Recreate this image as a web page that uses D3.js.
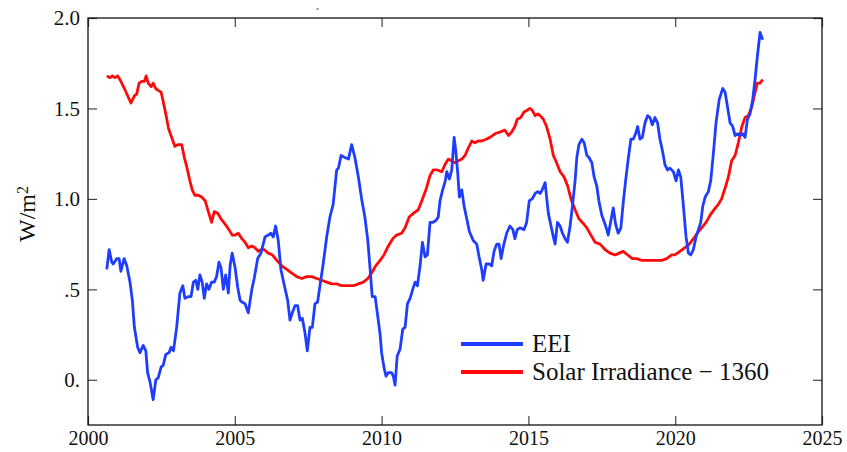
<!DOCTYPE html>
<html>
<head>
<meta charset="utf-8">
<script src="https://d3js.org/d3.v7.min.js"></script>
<style>
  body { margin: 0; background: #fff; }
  svg text { font-family: "Liberation Serif", "Times New Roman", serif; fill: #111; }
</style>
</head>
<body>
<div id="chart"></div>
<script>
// EEI (12-month running mean)
var eeiYears = [2000.64,2000.72,2000.81,2000.86,2000.98,2001.06,2001.12,2001.23,2001.32,2001.43,2001.51,2001.58,2001.69,2001.77,2001.88,2001.97,
  2002.03,2002.11,2002.22,2002.31,2002.39,2002.49,2002.56,2002.65,2002.76,2002.83,2002.91,2003.02,2003.13,2003.23,2003.30,2003.42,2003.51,2003.59,
  2003.67,2003.74,2003.81,2003.89,2003.96,2004.04,2004.12,2004.21,2004.30,2004.38,2004.46,2004.53,2004.61,2004.69,2004.78,2004.84,2004.91,2005.01,
  2005.10,2005.18,2005.24,2005.35,2005.46,2005.58,2005.66,2005.78,2005.89,2006.03,2006.14,2006.23,2006.31,2006.39,2006.48,2006.57,2006.69,2006.80,
  2006.88,2006.96,2007.05,2007.14,2007.22,2007.30,2007.39,2007.47,2007.56,2007.64,2007.73,2007.82,2007.91,2008.01,2008.13,2008.24,2008.35,2008.47,
  2008.53,2008.62,2008.73,2008.87,2008.98,2009.09,2009.21,2009.32,2009.43,2009.53,2009.60,2009.68,2009.78,2009.87,2009.95,2010.00,2010.08,2010.15,
  2010.23,2010.34,2010.40,2010.46,2010.53,2010.63,2010.72,2010.80,2010.88,2010.97,2011.06,2011.14,2011.22,2011.31,2011.39,2011.48,2011.56,2011.65,
  2011.74,2011.85,2011.93,2011.99,2012.08,2012.17,2012.22,2012.31,2012.39,2012.47,2012.53,2012.59,2012.65,2012.73,2012.81,2012.90,2012.99,2013.12,
  2013.24,2013.32,2013.41,2013.46,2013.56,2013.67,2013.75,2013.83,2013.92,2014.00,2014.07,2014.15,2014.26,2014.37,2014.47,2014.54,2014.62,2014.71,
  2014.85,2014.94,2015.03,2015.13,2015.23,2015.32,2015.40,2015.47,2015.57,2015.62,2015.68,2015.77,2015.85,2015.91,2015.99,2016.08,2016.16,2016.25,
  2016.33,2016.42,2016.50,2016.59,2016.65,2016.72,2016.82,2016.90,2016.99,2017.06,2017.16,2017.24,2017.33,2017.40,2017.50,2017.59,2017.67,2017.72,
  2017.81,2017.89,2017.97,2018.06,2018.15,2018.23,2018.31,2018.40,2018.49,2018.57,2018.65,2018.72,2018.80,2018.88,2018.97,2019.06,2019.14,2019.22,
  2019.31,2019.40,2019.48,2019.56,2019.65,2019.74,2019.82,2019.94,2020.03,2020.11,2020.19,2020.28,2020.37,2020.45,2020.53,2020.62,2020.71,2020.79,
  2020.87,2020.94,2021.02,2021.13,2021.21,2021.30,2021.39,2021.50,2021.62,2021.70,2021.78,2021.87,2021.96,2022.04,2022.13,2022.21,2022.30,2022.38,
  2022.46,2022.55,2022.64,2022.72,2022.80,2022.89,2022.98];
var eeiValues = [0.61,0.72,0.65,0.64,0.67,0.67,0.60,0.67,0.63,0.54,0.44,0.29,0.18,0.15,0.19,0.16,
  0.04,-0.01,-0.11,0.00,0.01,0.07,0.08,0.14,0.15,0.18,0.16,0.29,0.48,0.52,0.45,0.46,0.46,0.54,
  0.55,0.50,0.58,0.54,0.45,0.53,0.50,0.54,0.54,0.57,0.65,0.62,0.50,0.58,0.48,0.63,0.70,0.62,
  0.51,0.44,0.43,0.42,0.37,0.50,0.56,0.67,0.70,0.79,0.80,0.81,0.79,0.85,0.77,0.61,0.52,0.44,
  0.33,0.37,0.41,0.41,0.33,0.34,0.26,0.16,0.29,0.29,0.42,0.43,0.53,0.64,0.79,0.90,0.97,1.16,
  1.17,1.24,1.23,1.22,1.30,1.23,1.12,1.00,0.90,0.77,0.63,0.46,0.46,0.35,0.25,0.15,0.07,0.02,
  0.04,0.04,0.02,-0.03,0.13,0.17,0.28,0.29,0.42,0.45,0.50,0.54,0.52,0.63,0.76,0.68,0.69,0.87,
  0.87,0.88,0.90,0.99,1.05,1.10,1.15,1.11,1.16,1.34,1.26,1.15,1.01,1.05,0.96,0.89,0.82,0.77,
  0.75,0.68,0.61,0.55,0.64,0.64,0.63,0.71,0.75,0.75,0.67,0.74,0.81,0.85,0.83,0.78,0.83,0.84,
  0.83,0.87,0.99,1.00,1.03,1.04,1.03,1.05,1.09,1.01,0.92,0.85,0.79,0.75,0.87,0.85,0.81,0.78,
  0.76,0.85,0.96,1.10,1.23,1.30,1.33,1.31,1.24,1.23,1.20,1.12,1.07,0.99,0.91,0.87,0.83,0.80,
  0.88,0.95,0.86,0.81,0.84,0.98,1.10,1.22,1.33,1.33,1.36,1.40,1.33,1.34,1.42,1.46,1.45,1.41,
  1.45,1.42,1.33,1.27,1.19,1.16,1.17,1.15,1.10,1.16,1.12,0.96,0.79,0.70,0.69,0.72,0.79,0.83,
  0.87,0.96,1.01,1.04,1.10,1.25,1.42,1.55,1.61,1.59,1.51,1.42,1.40,1.35,1.36,1.35,1.36,1.34,
  1.44,1.47,1.55,1.66,1.79,1.92,1.88];

// Solar irradiance minus 1360 W/m2
var solarYears = [2000.64,2000.75,2000.83,2000.92,2001.01,2001.12,2001.24,2001.35,2001.46,2001.58,2001.66,2001.74,2001.83,2001.92,2001.98,
  2002.05,2002.15,2002.22,2002.31,2002.39,2002.49,2002.56,2002.65,2002.74,2002.85,2002.96,2003.06,2003.19,2003.28,2003.36,2003.47,2003.55,
  2003.64,2003.76,2003.87,2003.99,2004.10,2004.21,2004.30,2004.42,2004.53,2004.67,2004.80,2004.91,2005.01,2005.12,2005.24,2005.35,2005.46,
  2005.58,2005.69,2005.80,2005.89,2006.00,2006.14,2006.28,2006.43,2006.60,2006.77,2006.94,2007.11,2007.28,2007.45,2007.62,2007.79,2007.96,
  2008.13,2008.30,2008.47,2008.64,2008.85,2009.04,2009.21,2009.38,2009.53,2009.66,2009.80,2009.95,2010.08,2010.23,2010.38,2010.51,2010.68,
  2010.80,2010.94,2011.08,2011.25,2011.37,2011.51,2011.65,2011.76,2011.90,2012.05,2012.16,2012.27,2012.39,2012.50,2012.61,2012.73,2012.84,
  2012.95,2013.07,2013.18,2013.29,2013.41,2013.56,2013.69,2013.86,2014.03,2014.20,2014.32,2014.43,2014.54,2014.62,2014.74,2014.85,2014.96,
  2015.05,2015.13,2015.23,2015.32,2015.40,2015.51,2015.62,2015.74,2015.85,2015.96,2016.08,2016.22,2016.34,2016.45,2016.59,2016.72,2016.84,
  2016.99,2017.13,2017.27,2017.44,2017.61,2017.78,2017.95,2018.09,2018.23,2018.38,2018.54,2018.69,2018.86,2019.03,2019.20,2019.37,2019.54,
  2019.71,2019.88,2019.99,2020.16,2020.33,2020.48,2020.62,2020.75,2020.90,2021.05,2021.19,2021.32,2021.47,2021.58,2021.70,2021.81,2021.92,
  2022.04,2022.15,2022.27,2022.38,2022.49,2022.61,2022.72,2022.80,2022.89,2022.98];
var solarValues = [1.68,1.67,1.68,1.67,1.68,1.65,1.61,1.57,1.53,1.57,1.58,1.64,1.65,1.65,1.68,
  1.64,1.62,1.64,1.61,1.60,1.59,1.54,1.47,1.39,1.34,1.29,1.30,1.30,1.23,1.18,1.10,1.05,
  1.02,1.02,1.01,0.99,0.93,0.87,0.93,0.92,0.89,0.86,0.83,0.80,0.80,0.81,0.78,0.76,0.73,
  0.74,0.73,0.71,0.72,0.72,0.70,0.69,0.66,0.63,0.61,0.59,0.57,0.56,0.57,0.57,0.56,0.55,
  0.54,0.53,0.53,0.52,0.52,0.52,0.53,0.54,0.56,0.59,0.63,0.66,0.69,0.74,0.78,0.80,0.81,
  0.84,0.90,0.92,0.94,0.99,1.05,1.13,1.16,1.16,1.15,1.19,1.22,1.21,1.20,1.21,1.22,1.24,
  1.28,1.32,1.31,1.32,1.32,1.33,1.34,1.36,1.37,1.38,1.35,1.37,1.40,1.44,1.45,1.48,1.49,
  1.50,1.49,1.46,1.47,1.46,1.44,1.40,1.33,1.24,1.20,1.15,1.12,1.07,1.00,0.94,0.89,0.87,
  0.84,0.80,0.76,0.75,0.72,0.70,0.69,0.70,0.71,0.69,0.67,0.67,0.66,0.66,0.66,0.66,0.66,
  0.67,0.69,0.69,0.71,0.73,0.75,0.78,0.81,0.84,0.87,0.91,0.94,0.97,1.00,1.06,1.12,1.21,
  1.24,1.31,1.40,1.45,1.46,1.51,1.59,1.64,1.64,1.66];

var xTicks = [2000, 2005, 2010, 2015, 2020, 2025];
var yTicks = [0, 0.5, 1.0, 1.5, 2.0];
var yTickLabels = ["0.", ".5", "1.0", "1.5", "2.0"];
var seriesNames = ["EEI", "Solar Irradiance \u2212 1360"];
var seriesColors = ["#1f3dff", "#ff0a0a"];

var margin = {top: 18, right: 25, bottom: 27, left: 88},
    width = 847 - margin.left - margin.right,
    height = 452 - margin.top - margin.bottom;

var svg = d3.select("#chart")
  .append("svg")
  .attr("width", 847)
  .attr("height", 452)
  .append("g")
  .attr("transform", "translate(" + margin.left + "," + margin.top + ")");

var x = d3.scaleLinear().domain([2000, 2025]).range([0, width]);
var y = d3.scaleLinear().domain([-0.25, 2.0]).range([height, 0]);

// axes, ticks pointing inward on all four sides
var tickLen = 9;
svg.append("g")
  .attr("class", "xaxis")
  .attr("transform", "translate(0," + height + ")")
  .call(d3.axisBottom(x).tickValues(xTicks).tickFormat(d3.format("d"))
    .tickSizeInner(-tickLen).tickSizeOuter(0).tickPadding(6));
svg.append("g")
  .call(d3.axisTop(x).tickValues(xTicks).tickFormat("")
    .tickSizeInner(-tickLen).tickSizeOuter(0));
svg.append("g")
  .call(d3.axisLeft(y).tickValues(yTicks).tickFormat(function(d, i) { return yTickLabels[i]; })
    .tickSizeInner(-tickLen).tickSizeOuter(0).tickPadding(8));
svg.append("g")
  .attr("transform", "translate(" + width + ",0)")
  .call(d3.axisRight(y).tickValues(yTicks).tickFormat("")
    .tickSizeInner(-tickLen).tickSizeOuter(0));

svg.selectAll(".domain").remove();
svg.selectAll(".tick line").attr("stroke", "#444").attr("stroke-width", 1.2);
svg.selectAll(".tick text").style("font-size", "21px").attr("fill", "#111");
svg.selectAll(".xaxis .tick text").style("font-size", "20px");

// frame
svg.append("rect")
  .attr("width", width)
  .attr("height", height)
  .attr("fill", "none")
  .attr("stroke", "#111")
  .attr("stroke-width", 1.3);

// y axis title
var yt = svg.append("text")
  .attr("transform", "translate(" + (35 - margin.left) + "," + (214 - margin.top) + ") rotate(-90)")
  .attr("text-anchor", "middle")
  .style("font-size", "24px");
yt.append("tspan").text("W/m");
yt.append("tspan").attr("dy", "-0.45em").style("font-size", "16px").text("2");

// lines
var line = d3.line()
  .x(function(d) { return x(d[0]); })
  .y(function(d) { return y(d[1]); });

var eei = eeiYears.map(function(d, i) { return [d, eeiValues[i]]; });
var solar = solarYears.map(function(d, i) { return [d, solarValues[i]]; });

svg.append("path")
  .datum(solar)
  .attr("d", line)
  .attr("fill", "none")
  .attr("stroke", seriesColors[1])
  .attr("stroke-width", 2.8)
  .attr("stroke-linejoin", "round");

svg.append("path")
  .datum(eei)
  .attr("d", line)
  .attr("fill", "none")
  .attr("stroke", seriesColors[0])
  .attr("stroke-width", 2.8)
  .attr("stroke-linejoin", "round");

// legend
var legend = svg.append("g")
  .attr("transform", "translate(" + (461 - margin.left) + "," + (344 - margin.top) + ")");
seriesNames.forEach(function(name, i) {
  legend.append("line")
    .attr("x1", 0).attr("x2", 62)
    .attr("y1", i * 28).attr("y2", i * 28)
    .attr("stroke", seriesColors[i])
    .attr("stroke-width", 4);
  legend.append("text")
    .attr("x", 71)
    .attr("y", i * 28 + 8)
    .style("font-size", "25px")
    .text(name);
});

// small stray mark above the frame in the original
svg.append("line")
  .attr("x1", 316 - margin.left).attr("x2", 319 - margin.left)
  .attr("y1", 9 - margin.top).attr("y2", 9 - margin.top)
  .attr("stroke", "#666").attr("stroke-width", 1);
</script>
</body>
</html>
